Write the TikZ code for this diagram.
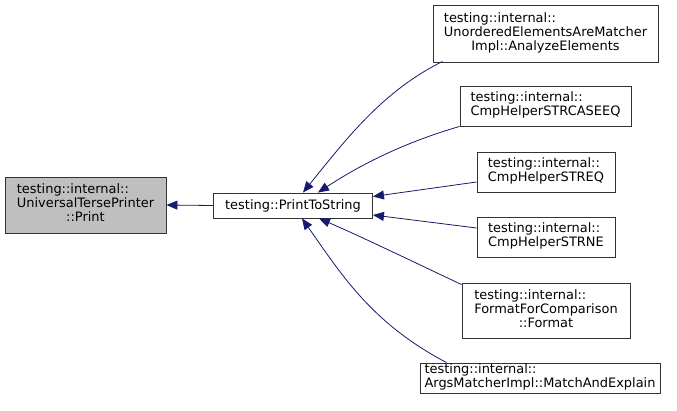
\documentclass[tikz,border=0pt]{standalone}
\usepackage{fontspec}
\setmainfont{DejaVu Sans}
\usetikzlibrary{arrows.meta,calc}
\definecolor{edgec}{HTML}{191970}
\definecolor{nodefill}{HTML}{BFBFBF}
\tikzset{
  box/.style={draw=black!80, line width=0.9pt, fill=white, inner sep=0pt,
    font=\fontsize{12.95}{14}\selectfont},
  edge/.style={draw=edgec, line width=0.8pt, -{Triangle[length=11pt,width=9pt]}},
}
\begin{document}
\begin{tikzpicture}[x=1pt,y=-1pt]
\useasboundingbox (0,0) rectangle (677,410);
\node[box, fill=nodefill, minimum width=161pt, minimum height=56pt] (print) at (85.5,205)
  {\begin{tabular}{@{}l@{}}testing::internal::\\UniversalTersePrinter\\\multicolumn{1}{@{}c@{}}{::Print}\end{tabular}};
\node[box, minimum width=159pt, minimum height=25pt] (p) at (293,205.5) {testing::PrintToString};
\node[box, minimum width=225pt, minimum height=57pt] (u) at (545.5,33.5)
  {\begin{tabular}{@{}l@{}}testing::internal::\\UnorderedElementsAreMatcher\\\multicolumn{1}{@{}c@{}}{Impl::AnalyzeElements}\end{tabular}};
\node[box, minimum width=171pt, minimum height=40pt] (c1) at (545.5,106)
  {\begin{tabular}{@{}l@{}}testing::internal::\\CmpHelperSTRCASEEQ\end{tabular}};
\node[box, minimum width=138pt, minimum height=40pt] (c2) at (546,172)
  {\begin{tabular}{@{}l@{}}testing::internal::\\CmpHelperSTREQ\end{tabular}};
\node[box, minimum width=138pt, minimum height=40pt] (c3) at (546,237)
  {\begin{tabular}{@{}l@{}}testing::internal::\\CmpHelperSTRNE\end{tabular}};
\node[box, minimum width=168pt, minimum height=55pt] (f) at (546,310.5)
  {\begin{tabular}{@{}l@{}}testing::internal::\\FormatForComparison\\\multicolumn{1}{@{}c@{}}{::Format}\end{tabular}};
\node[box, minimum width=240pt, minimum height=30pt] (a) at (540,378)
  {\begin{tabular}{@{}l@{}}testing::internal::\\ArgsMatcherImpl::MatchAndExplain\end{tabular}};

\draw[edge] (p.west) -- (print.east);
\draw[edge] ($(u.south west)+(10,-1)$) .. controls (383,91) and (347,138) .. ($(p.north)+(10,0)$);
\draw[edge] (c1.south west) .. controls (399,144) and (355.5,168) .. ($(p.north)+(25,0)$);
\draw[edge] ($(c2.west)+(0,10)$) -- ($(p.east)+(0,-9)$);
\draw[edge] ($(c3.west)+(0,-9)$) -- ($(p.east)+(0,9.5)$);
\draw[edge] ($(f.north west)+(0,2)$) .. controls (420,265) and (360,236) .. ($(p.south)+(26,0)$);
\draw[edge] ($(a.north west)+(27,0)$) .. controls (371,323) and (340.5,273) .. ($(p.south)+(9,0)$);
\end{tikzpicture}
\end{document}
